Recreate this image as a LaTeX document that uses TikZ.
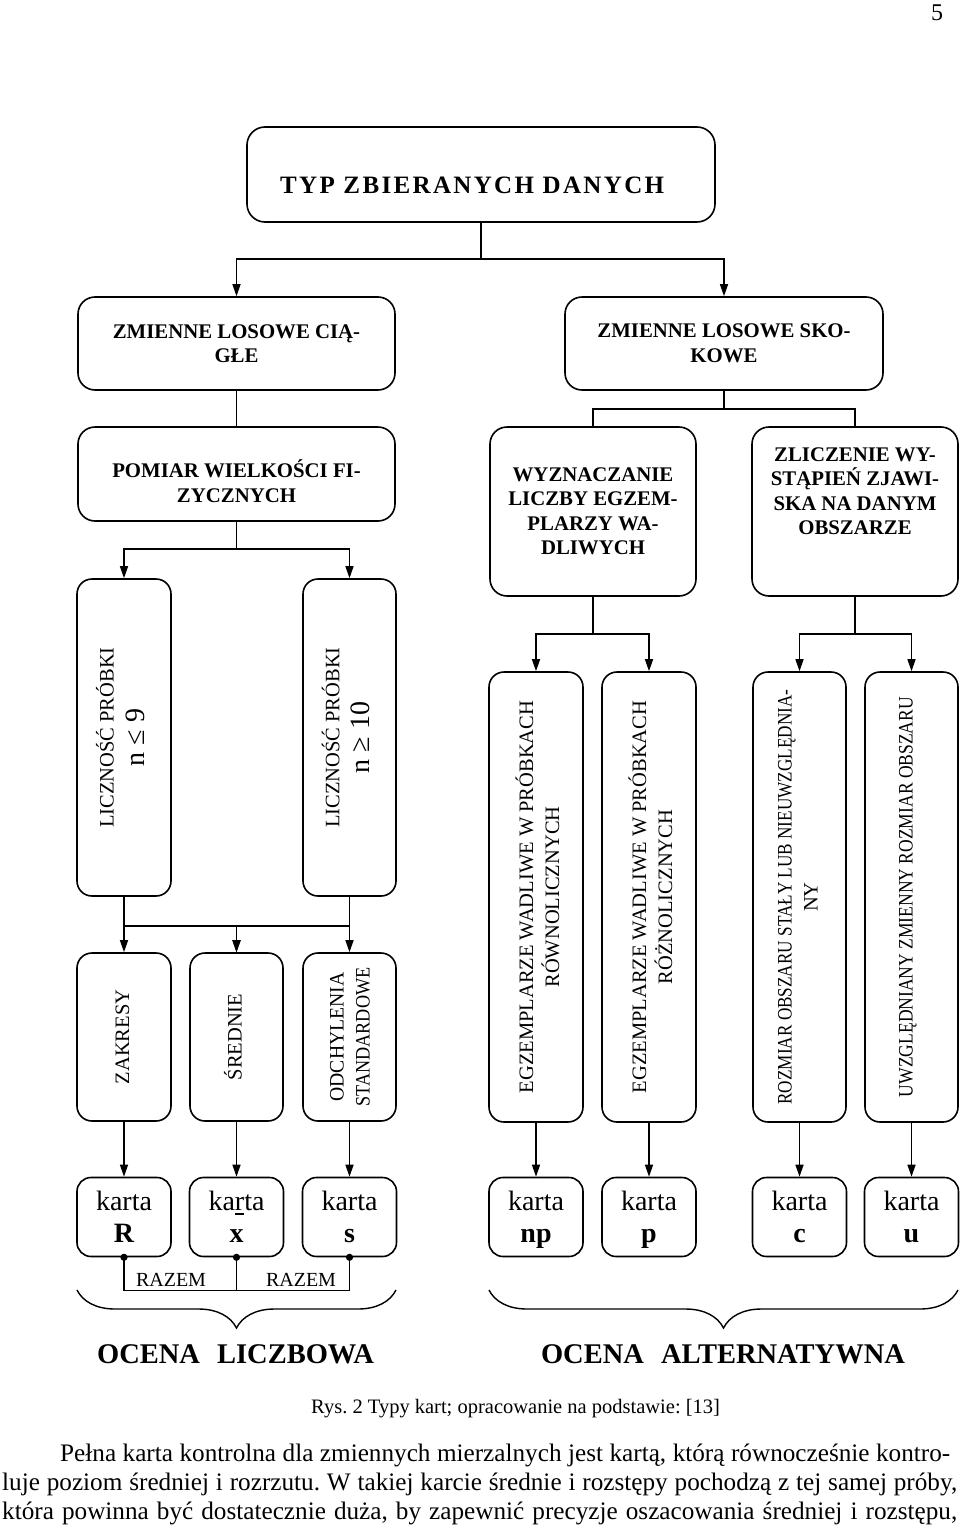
\documentclass[tikz,border=0pt]{standalone}
\usepackage{fontspec}
\setmainfont{Liberation Serif}
\newfontface\typfont{Liberation Serif Bold}[LetterSpace=9.4]
\usepackage{graphicx}
\usetikzlibrary{arrows.meta,decorations.pathreplacing,calc}
\frenchspacing
\newcommand\fhb{\fontsize{20.8}{24.5}\selectfont\bfseries}
\newcommand\fvt{\fontsize{20.5}{26}\selectfont}
\newcommand\vt[1]{\rotatebox{90}{\begin{tabular}{@{}c@{}}#1\end{tabular}}}
\newcommand\vts[2]{\rotatebox{90}{\raisebox{-#1}[\height][\depth]{\begin{tabular}{@{}c@{}}#2\end{tabular}}}}
\newcommand\bign[1]{{\fontsize{28}{30}\selectfont #1}}
\begin{document}
\begin{tikzpicture}[x=1pt,y=-1pt,
  box/.style={draw, line width=1.6pt, rounded corners=17pt, inner sep=0pt, align=center},
  vbox/.style={box, rounded corners=15pt, font=\fvt},
  kbox/.style={box, rounded corners=14pt, minimum width=94pt, minimum height=79pt, text depth=0pt, font=\fontsize{28}{32}\selectfont},
  hb/.style={font=\fhb, align=center, inner sep=0pt},
  ln/.style={line width=1.4pt},
  arr/.style={line width=1.4pt, -{Triangle[length=12pt,width=8pt]}},
  brc/.style={line width=1.4pt, decorate, decoration={brace, amplitude=38pt}},
  txt/.style={inner sep=0pt},
  par/.style={txt, font=\fontsize{25.2}{29}\selectfont, anchor=base west}
]
\useasboundingbox (0,0) rectangle (960,1528);

% page number
\node[txt, font=\fontsize{24}{26}\selectfont, anchor=base] (pg) at (937,21) {5};

% level 1
\node[box, rounded corners=18pt, minimum width=468pt, minimum height=95pt] (typ) at (481,174.5) {};
\node[txt, font=\typfont\fontsize{25}{30}\selectfont, anchor=base west] (typt) at (280,193) {TYP ZBIERANYCH DANYCH};

% level 2
\node[box, minimum width=317pt, minimum height=93pt, font=\fhb] (zl) at (236.5,343.5) {ZMIENNE LOSOWE CIĄ-\\GŁE};
\node[box, minimum width=318pt, minimum height=93pt, font=\fhb] (zs) at (724,343.5) {ZMIENNE LOSOWE SKO-\\KOWE};

% level 3
\node[box, minimum width=317pt, minimum height=94pt] (pom) at (236.5,474) {};
\node[hb] (pomt) at (236.5,481) {POMIAR WIELKOŚCI FI-\\ZYCZNYCH};
\node[box, minimum width=206pt, minimum height=169pt, font=\fhb] (wyz) at (593,511.5) {WYZNACZANIE\\LICZBY EGZEM-\\PLARZY WA-\\DLIWYCH};
\node[box, minimum width=206pt, minimum height=169pt] (zli) at (855,511.5) {};
\node[hb] (zlit) at (855,491) {ZLICZENIE WY-\\STĄPIEŃ ZJAWI-\\SKA NA DANYM\\OBSZARZE};

% level 4 (left)
\node[vbox, minimum width=94pt, minimum height=317pt] (lic9) at (124,737.5) {\vt{LICZNOŚĆ PRÓBKI\\[5pt]\bign{n ≤ 9}}};
\node[vbox, minimum width=93pt, minimum height=317pt] (lic10) at (349.5,737.5) {\vt{LICZNOŚĆ PRÓBKI\\[4pt]\bign{n ≥ 10}}};

% level 5 (left)
\node[vbox, minimum width=94pt, minimum height=168pt] (zak) at (124,1037) {\vt{ZAKRESY}};
\node[vbox, minimum width=93pt, minimum height=168pt] (sre) at (236.5,1037) {\vt{ŚREDNIE}};
\node[vbox, minimum width=93pt, minimum height=168pt] (odch) at (349.5,1037) {\vts{2pt}{\resizebox{129pt}{\height}{ODCHYLENIA}\\\resizebox{139pt}{\height}{STANDARDOWE}}};

% level 4 (right)
\node[vbox, minimum width=94pt, minimum height=450pt] (egz1) at (536,897) {\vts{5pt}{EGZEMPLARZE WADLIWE W PRÓBKACH\\RÓWNOLICZNYCH}};
\node[vbox, minimum width=94pt, minimum height=450pt] (egz2) at (649,897) {\vts{5pt}{EGZEMPLARZE WADLIWE W PRÓBKACH\\RÓŻNOLICZNYCH}};
\node[vbox, minimum width=93pt, minimum height=450pt] (roz) at (799.5,897) {\vt{\resizebox{415pt}{\height}{ROZMIAR OBSZARU STAŁY LUB NIEUWZGLĘDNIA-}\\NY}};
\node[vbox, minimum width=93pt, minimum height=450pt] (uwz) at (911.5,897) {\vts{-4pt}{\resizebox{400pt}{\height}{UWZGLĘDNIANY ZMIENNY ROZMIAR OBSZARU}}};

% karta boxes
\node[kbox] (kR) at (124,1217) {karta\\\textbf{R}};
\node[kbox] (kx) at (236.5,1217) {karta\\\textbf{x}};
\node[kbox] (ks) at (349.5,1217) {karta\\\textbf{s}};
\node[kbox] (knp) at (536,1217) {karta\\\textbf{np}};
\node[kbox] (kp) at (649,1217) {karta\\\textbf{p}};
\node[kbox] (kc) at (799.5,1217) {karta\\\textbf{c}};
\node[kbox] (ku) at (911.5,1217) {karta\\\textbf{u}};
\draw[line width=1.3pt] ($(kx.center)+(-1.5,-3)$) -- ++(9,0);

% connectors
\draw[arr] (typ.south) -- ++(0,36) -| (zl.north);
\draw[arr] (typ.south) -- ++(0,36) -| (zs.north);
\draw[ln] (zl.south) -- (pom.north);
\draw[ln] (zs.south) -- ++(0,18) -| (wyz.north);
\draw[ln] (zs.south) -- ++(0,18) -| (zli.north);
\draw[arr] (pom.south) -- ++(0,27) -| (lic9.north);
\draw[arr] (pom.south) -- ++(0,27) -| (lic10.north);
\draw[arr] (wyz.south) -- ++(0,37) -| (egz1.north);
\draw[arr] (wyz.south) -- ++(0,37) -| (egz2.north);
\draw[arr] (zli.south) -- ++(0,37) -| (roz.north);
\draw[arr] (zli.south) -- ++(0,37) -| (uwz.north);
\draw[arr] (lic9.south) -- (zak.north);
\draw[arr] (lic10.south) -- (odch.north);
\draw[arr] (lic9.south) -- ++(0,29) -| (sre.north);
\draw[arr] (lic10.south) -- ++(0,29) -| (sre.north);
\draw[arr] (zak.south) -- (kR.north);
\draw[arr] (sre.south) -- (kx.north);
\draw[arr] (odch.south) -- (ks.north);
\draw[arr] (egz1.south) -- (knp.north);
\draw[arr] (egz2.south) -- (kp.north);
\draw[arr] (roz.south) -- (kc.north);
\draw[arr] (uwz.south) -- (ku.north);

% RAZEM links
\fill (kR.south) circle[radius=3.6pt];
\fill (kx.south) circle[radius=3.6pt];
\fill (ks.south) circle[radius=3.6pt];
\draw[ln] (kR.south) -- ++(0,33) -| (ks.south);
\draw[ln] (kx.south) -- ++(0,33);
\node[txt, font=\fontsize{20}{22}\selectfont, anchor=base] (raz1) at (171,1286) {RAZEM};
\node[txt, font=\fontsize{20}{22}\selectfont, anchor=base] (raz2) at (301,1286) {RAZEM};

% braces
\draw[brc] (396,1290) -- (77,1290);
\draw[brc] (958,1290) -- (489,1290);
\node[txt, font=\fontsize{28.5}{30}\selectfont\bfseries, anchor=base] (ocl) at (235.5,1363) {OCENA\hspace{0.6em}LICZBOWA};
\node[txt, font=\fontsize{28.5}{30}\selectfont\bfseries, anchor=base] (oca) at (723,1363) {OCENA\hspace{0.6em}ALTERNATYWNA};

% caption and paragraph
\node[txt, font=\fontsize{20.5}{24}\selectfont, anchor=base west] (cap) at (311,1413) {Rys. 2 Typy kart; opracowanie na podstawie: [13]};
\node[par] (p1) at (60,1461) {\makebox[890pt][s]{Pełna karta kontrolna dla zmiennych mierzalnych jest kartą, którą równocześnie kontro-}};
\node[par] (p2) at (2,1490) {\makebox[955pt][s]{luje poziom średniej i rozrzutu. W takiej karcie średnie i rozstępy pochodzą z tej samej próby,}};
\node[par] (p3) at (2,1519) {\makebox[955pt][s]{która powinna być dostatecznie duża, by zapewnić precyzje oszacowania średniej i rozstępu,}};
\end{tikzpicture}
\end{document}
